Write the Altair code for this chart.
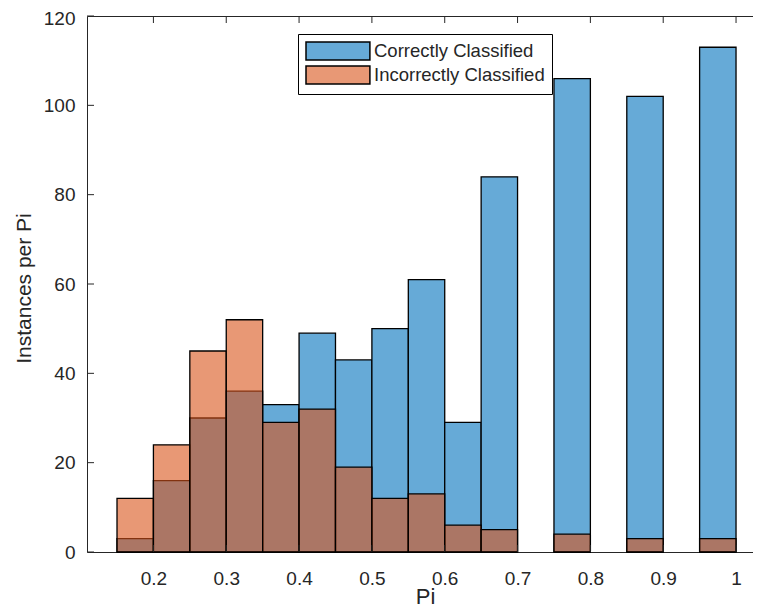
import altair as alt
import pandas as pd

# Histogram bins (left edge, right edge) and counts per bin
bin_start = [0.15, 0.20, 0.25, 0.30, 0.35, 0.40, 0.45, 0.50, 0.55, 0.60, 0.65, 0.75, 0.85, 0.95]
bin_end = [0.20, 0.25, 0.30, 0.35, 0.40, 0.45, 0.50, 0.55, 0.60, 0.65, 0.70, 0.80, 0.90, 1.00]
correct = [3, 16, 30, 36, 33, 49, 43, 50, 61, 29, 84, 106, 102, 113]
incorrect = [12, 24, 45, 52, 29, 32, 19, 12, 13, 6, 5, 4, 3, 3]

series_names = ["Correctly Classified", "Incorrectly Classified"]
x_ticks = [0.2, 0.3, 0.4, 0.5, 0.6, 0.7, 0.8, 0.9, 1.0]
y_ticks = [0, 20, 40, 60, 80, 100, 120]

rows = []
for s, e, c, i in zip(bin_start, bin_end, correct, incorrect):
    rows.append({"start": s, "end": e, "count": c, "series": series_names[0]})
    rows.append({"start": s, "end": e, "count": i, "series": series_names[1]})
df = pd.DataFrame(rows)

W, H = 666, 536
TXT = "#262626"
FONT = "Liberation Sans"

xscale = alt.Scale(domain=[0.1088, 1.0233], nice=False, zero=False)
yscale = alt.Scale(domain=[0, 120], nice=False)

base = alt.Chart(df)

blue = base.transform_filter(alt.datum.series == series_names[0]).mark_bar(
    stroke="black", strokeWidth=1.3
).encode(
    x=alt.X("start:Q", scale=xscale,
            axis=alt.Axis(values=x_ticks, format=".1~f", title="Pi",
                          labelPadding=32, labelBaseline="alphabetic",
                          titleX=338, titleY=51, titleBaseline="alphabetic",
                          titleFontSize=22)),
    x2="end:Q",
    y=alt.Y("count:Q", scale=yscale,
            axis=alt.Axis(values=y_ticks, title="Instances per Pi",
                          labelPadding=12, titleX=-57, titleY=272,
                          labelOffset=alt.expr("datum.value == 120 ? 2 : 0"),
                          titleBaseline="alphabetic", titleFontSize=21)),
    y2=alt.datum(0),
    color=alt.Color(
        "series:N",
        scale=alt.Scale(domain=series_names, range=["#66AAD7", "#E89875"]),
        legend=alt.Legend(
            title=None, orient="none", legendX=211, legendY=18,
            symbolType="M-1,-1H6.1V1H-1Z", symbolSize=324,
            symbolStrokeColor="black", symbolStrokeWidth=1.5, symbolOpacity=1,
            labelFontSize=18.5, labelOffset=49, labelLimit=400,
            padding=7, rowPadding=0, strokeColor="black", fillColor="white",
        ),
    ),
)

orange = base.transform_filter(alt.datum.series == series_names[1]).mark_bar(
    fill="#D95319", fillOpacity=0.6, stroke="black", strokeWidth=1.3
).encode(
    x="start:Q", x2="end:Q", y="count:Q", y2=alt.datum(0)
)

xt = alt.Chart(pd.DataFrame({"v": x_ticks}))
yt = alt.Chart(pd.DataFrame({"v": y_ticks}))
tick_bottom = xt.mark_rule(color=TXT).encode(x="v:Q", y=alt.value(H), y2=alt.value(H - 7))
tick_top = xt.mark_rule(color=TXT).encode(x="v:Q", y=alt.value(0), y2=alt.value(7))
tick_left = yt.mark_rule(color=TXT).encode(y="v:Q", x=alt.value(0), x2=alt.value(7))

chart = alt.layer(blue, orange, tick_bottom, tick_top, tick_left).properties(
    width=W, height=H,
    autosize=alt.AutoSizeParams(type="none"),
    padding={"left": 79, "top": 8, "right": 0, "bottom": 55},
    background="white",
).configure_view(
    stroke=TXT, strokeWidth=1
).configure_axis(
    domain=False, ticks=False, tickSize=0, grid=False,
    labelFont=FONT, labelFontSize=19, labelColor=TXT,
    titleFont=FONT, titleColor=TXT, titleFontWeight="normal",
).configure_legend(
    labelFont=FONT, labelColor=TXT,
)

chart.save("out.html", embed_options={"renderer": "svg", "actions": False})
